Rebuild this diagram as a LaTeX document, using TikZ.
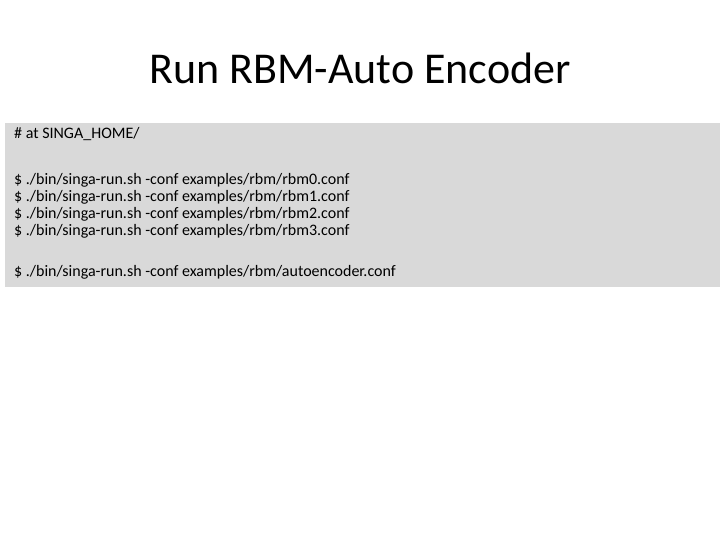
\documentclass[tikz,border=0pt]{standalone}
\usepackage{fontspec}
\setmainfont{Carlito}
\usetikzlibrary{positioning}
\definecolor{codeBg}{HTML}{D9D9D9}
\tikzset{codeLine/.style={anchor=west,inner sep=0pt,font=\fontsize{16bp}{18bp}\selectfont}}
\begin{document}
\begin{tikzpicture}[x=1bp,y=-1bp]
	\useasboundingbox (0,0) rectangle (720,540);
	\node[font=\fontsize{44bp}{48bp}\selectfont] (title) at (360,68) {Run RBM-Auto Encoder};
	\fill[codeBg] (5,123) rectangle (720,287);
	\node[codeLine] (home) at (14,134) {\# at SINGA\_HOME/};
	\node[codeLine] (rbm0) at (14,180) {\$ ./bin/singa-run.sh -conf examples/rbm/rbm0.conf};
	\node[codeLine] (rbm1) at (14,197) {\$ ./bin/singa-run.sh -conf examples/rbm/rbm1.conf};
	\node[codeLine] (rbm2) at (14,214) {\$ ./bin/singa-run.sh -conf examples/rbm/rbm2.conf};
	\node[codeLine] (rbm3) at (14,231) {\$ ./bin/singa-run.sh -conf examples/rbm/rbm3.conf};
	\node[codeLine] (auto) at (14,272) {\$ ./bin/singa-run.sh -conf examples/rbm/autoencoder.conf};
\end{tikzpicture}
\end{document}
